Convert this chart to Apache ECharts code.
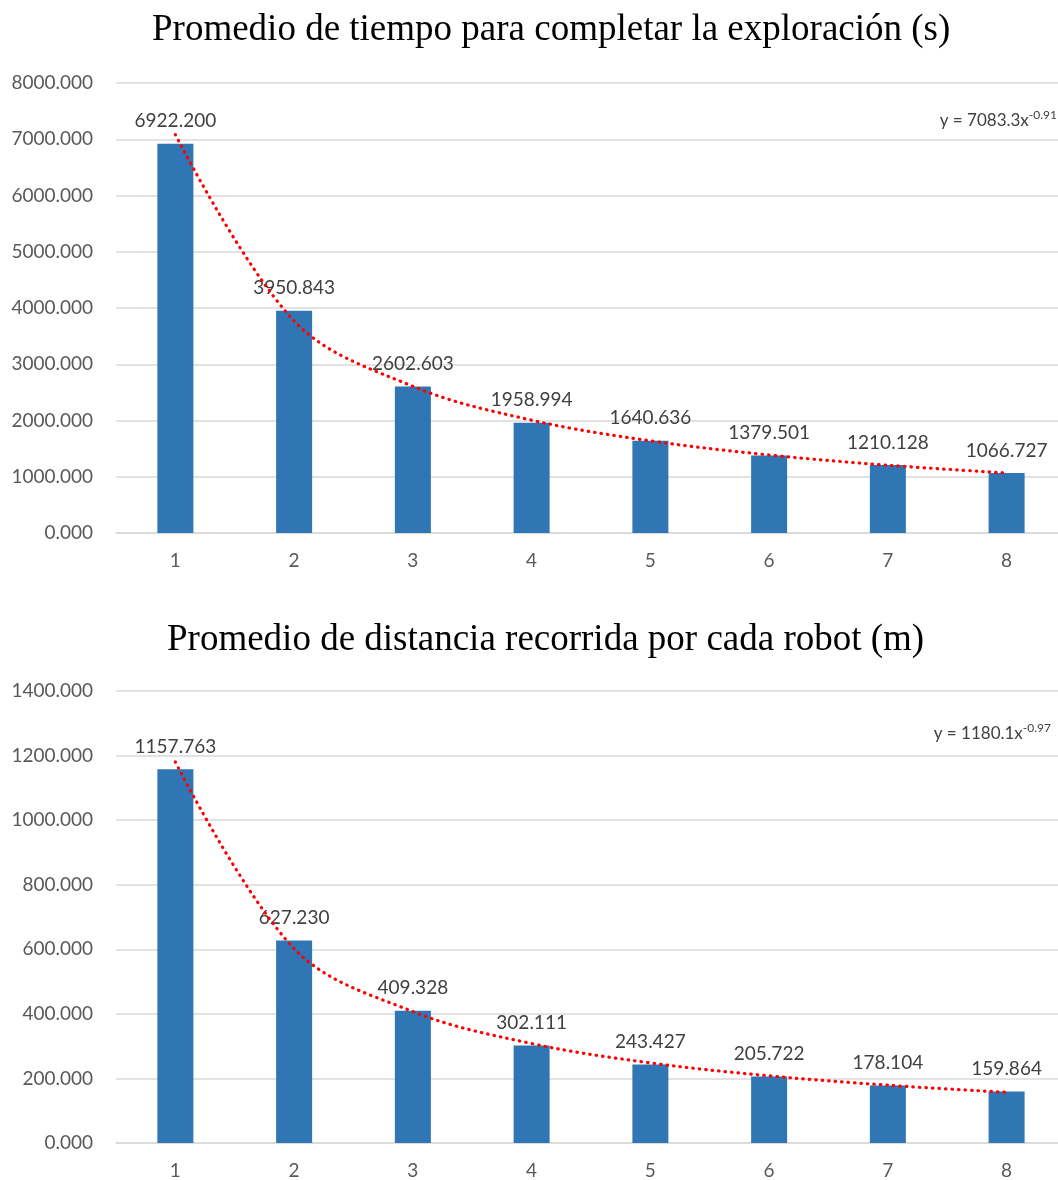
<!DOCTYPE html>
<html>
<head>
<meta charset="utf-8">
<script src="https://cdn.jsdelivr.net/npm/echarts@6/dist/echarts.min.js"></script>
<style>
  html, body { margin: 0; padding: 0; background: #fff; }
  #chart { width: 1058px; height: 1180px; }
</style>
</head>
<body>
<div id="chart"></div>
<script>
const categories = ['1', '2', '3', '4', '5', '6', '7', '8'];

// tiempo (s)
const timeValues = [6922.200, 3950.843, 2602.603, 1958.994, 1640.636, 1379.501, 1210.128, 1066.727];
// trend line at each category
const timeTrend = [7083, 3770, 2607, 2006, 1638, 1387, 1205, 1067];
const timeTicks = [0, 8000, 1000];

// distancia (m)
const distValues = [1157.763, 627.230, 409.328, 302.111, 243.427, 205.722, 178.104, 159.864];
const distTrend = [1180, 602, 407, 308, 248, 208, 179, 157];
const distTicks = [0, 1400, 200];

const titles = [
  'Promedio de tiempo para completar la exploración (s)',
  'Promedio de distancia recorrida por cada robot (m)',
];
const equations = [
  ['7083.3x', '-0.91'],
  ['1180.1x', '-0.97'],
];

const sansFont = 'Lato, "Open Sans", sans-serif';
const serifFont = '"Liberation Serif", "DejaVu Serif", serif';

// grid runs a bit past the right edge of the page, like the original
const createGrid = (top, height) => ({
  left: 116,
  width: 950,
  top,
  height,
  outerBoundsMode: 'none',
});

const createXAxis = (gridIndex) => ({
  type: 'category',
  gridIndex,
  data: categories,
  axisTick: { show: false },
  axisLine: { lineStyle: { color: '#d9d9d9', width: 1.5 } },
  axisLabel: { color: '#595959', fontSize: 19, fontFamily: sansFont, margin: 18 },
});

const createYAxis = (gridIndex, ticks) => ({
  type: 'value',
  gridIndex,
  min: ticks[0],
  max: ticks[1],
  interval: ticks[2],
  axisLine: { show: false },
  axisTick: { show: false },
  splitLine: { lineStyle: { color: '#d9d9d9', width: 1.5 } },
  axisLabel: {
    color: '#595959',
    fontSize: 19,
    fontFamily: sansFont,
    margin: 23,
    formatter: (v) => v.toFixed(3),
  },
});

const createBarSeries = (index, values) => ({
  type: 'bar',
  xAxisIndex: index,
  yAxisIndex: index,
  data: values,
  barWidth: 36,
  itemStyle: { color: '#3176b4' },
  label: {
    show: true,
    position: 'top',
    distance: 13,
    color: '#404040',
    fontSize: 19,
    fontFamily: sansFont,
    formatter: (p) => p.value.toFixed(3),
  },
  z: 2,
});

const createTrendSeries = (index, values) => ({
  type: 'line',
  xAxisIndex: index,
  yAxisIndex: index,
  data: values,
  smooth: 0.35,
  symbol: 'none',
  lineStyle: {
    color: '#ff0000',
    width: 3.2,
    type: [0.5, 6],
    cap: 'round',
  },
  z: 3,
});

const createEquation = (eq, right, top) => ({
  type: 'text',
  right,
  top,
  style: {
    text: `{b|y = ${eq[0]}}{s|${eq[1]}}`,
    rich: {
      b: { fontSize: 17, fontFamily: sansFont, fill: '#404040', verticalAlign: 'bottom' },
      s: { fontSize: 12, fontFamily: sansFont, fill: '#404040', padding: [0, 0, 8, 0], verticalAlign: 'bottom' },
    },
  },
});

const createTitle = (text, left, top) => ({
  text,
  left,
  top,
  textStyle: { fontFamily: serifFont, fontWeight: 'normal', fontSize: 37, color: '#000' },
});

const option = {
  backgroundColor: '#ffffff',
  animation: false,
  title: [createTitle(titles[0], 147, 7), createTitle(titles[1], 162, 617)],
  grid: [createGrid(83, 450), createGrid(691, 452)],
  xAxis: [createXAxis(0), createXAxis(1)],
  yAxis: [createYAxis(0, timeTicks), createYAxis(1, distTicks)],
  series: [
    createBarSeries(0, timeValues),
    createTrendSeries(0, timeTrend),
    createBarSeries(1, distValues),
    createTrendSeries(1, distTrend),
  ],
  graphic: [
    createEquation(equations[0], 1, 109),
    createEquation(equations[1], 7, 722),
  ],
};

const myChart = echarts.init(document.getElementById('chart'));
myChart.setOption(option);
</script>
</body>
</html>
